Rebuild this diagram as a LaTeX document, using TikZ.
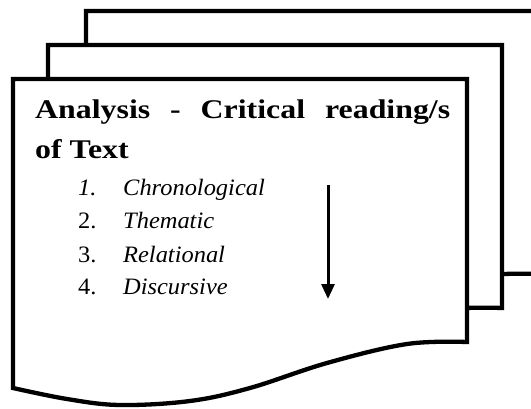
\documentclass[tikz,border=0pt]{standalone}
\usepackage{fontspec}
\setmainfont{Liberation Serif}
\newfontfamily\headfont[FakeStretch=1.18]{Liberation Serif}
\newfontfamily\listfont[FakeStretch=1.04]{Liberation Serif}
\usetikzlibrary{arrows.meta}

\tikzset{
  sheet/.style={draw=black, fill=white, line width=4.3pt, line join=miter},
  heading/.style={font=\headfont\fontsize{27}{31}\selectfont\bfseries, inner sep=0pt},
  itemtext/.style={font=\listfont\fontsize{23.5}{27}\selectfont, inner sep=0pt, anchor=base west},
  flow/.style={line width=3pt, -{Triangle[width=13pt,length=15pt]}}
}

% one page of the stack: wavy-bottomed document outline, shifted by (#1,#2)
\newcommand{\docsheet}[2]{%
  \draw[sheet, shift={(#1,#2)}]
    (13,79) -- (467,79) -- (467,342)
    -- plot[smooth, tension=0.6] coordinates {(467,342) (407,344) (327,363) (250,388) (190,401) (120,405) (67,399) (13,388)}
    -- cycle;}

\begin{document}
\begin{tikzpicture}[x=1pt, y=-1pt]
  \useasboundingbox (0,0) rectangle (531,408);
  \clip (0,0) rectangle (531,408);

  % stacked pages, back to front
  \docsheet{73}{-68}
  \docsheet{35}{-34}
  \docsheet{0}{0}

  % title
  \node[heading, anchor=base west] (title1) at (35,118)
    {\makebox[415pt][s]{Analysis - Critical reading/s}};
  \node[heading, anchor=base west] (title2) at (35,158) {of Text};

  % numbered list
  \node[itemtext] (n1) at (78,195) {\itshape 1.};
  \node[itemtext] (t1) at (123,195) {\itshape Chronological};
  \node[itemtext] (n2) at (78,228) {2.};
  \node[itemtext] (t2) at (123,228) {\itshape Thematic};
  \node[itemtext] (n3) at (78,262) {3.};
  \node[itemtext] (t3) at (123,262) {\itshape Relational};
  \node[itemtext] (n4) at (78,294) {4.};
  \node[itemtext] (t4) at (123,294) {\itshape Discursive};

  % downward arrow beside the list
  \coordinate (arrtop) at (328,185);
  \coordinate (arrbot) at (328,299);
  \draw[flow] (arrtop) -- (arrbot);
\end{tikzpicture}
\end{document}
